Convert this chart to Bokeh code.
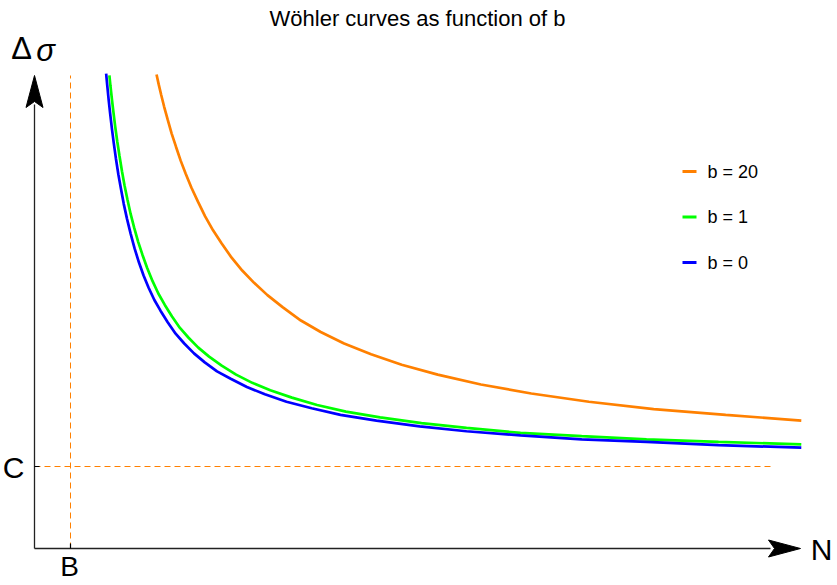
from bokeh.plotting import figure
from bokeh.models import Range1d, Label
from bokeh.embed import file_html
from bokeh.resources import INLINE

# ---- data (B = 1, C = 1) ----
B_val = 1.0
C_val = 1.0

N_b20 = [3.39, 3.45, 3.52, 3.6, 3.7, 3.81, 3.93, 4.06, 4.2, 4.36, 4.54, 4.74,
         4.96, 5.2, 5.47, 5.77, 6.1, 6.47, 6.9, 7.4, 7.95, 8.6, 9.35, 10.2,
         11.2, 12.4, 13.8, 15.4, 17.2, 19.2, 21.3]
S_b20 = [5.78, 5.66, 5.53, 5.39, 5.23, 5.06, 4.90, 4.73, 4.57, 4.40, 4.23, 4.05,
         3.88, 3.72, 3.55, 3.39, 3.24, 3.09, 2.94, 2.78, 2.64, 2.50, 2.37, 2.24,
         2.12, 2.00, 1.89, 1.79, 1.70, 1.63, 1.56]

N_b1 = [2.08, 2.11, 2.15, 2.19, 2.24, 2.3, 2.36, 2.43, 2.5, 2.58, 2.67, 2.77,
        2.88, 3.0, 3.13, 3.28, 3.44, 3.62, 3.82, 4.04, 4.28, 4.55, 4.85, 5.2,
        5.6, 6.05, 6.55, 7.15, 7.85, 8.65, 9.6, 10.75, 12, 13.5, 15.2, 17, 19,
        21.3]
S_b1 = [5.77, 5.64, 5.48, 5.33, 5.15, 4.96, 4.79, 4.60, 4.43, 4.26, 4.08, 3.91,
        3.74, 3.58, 3.42, 3.26, 3.11, 2.97, 2.83, 2.69, 2.57, 2.45, 2.34, 2.23,
        2.12, 2.02, 1.93, 1.84, 1.75, 1.67, 1.60, 1.53, 1.47, 1.41, 1.37, 1.33,
        1.30, 1.27]

N_b0 = [1.99, 2.02, 2.06, 2.1, 2.15, 2.2, 2.26, 2.33, 2.4, 2.48, 2.57, 2.67,
        2.78, 2.9, 3.03, 3.17, 3.33, 3.5, 3.7, 3.92, 4.16, 4.43, 4.73, 5.07,
        5.45, 5.9, 6.4, 7, 7.7, 8.5, 9.5, 10.7, 12, 13.5, 15.2, 17, 19, 21.3]
S_b0 = [5.79, 5.65, 5.47, 5.31, 5.12, 4.95, 4.76, 4.56, 4.39, 4.20, 4.02, 3.84,
        3.66, 3.49, 3.33, 3.18, 3.03, 2.90, 2.76, 2.62, 2.50, 2.38, 2.27, 2.16,
        2.07, 1.97, 1.88, 1.79, 1.71, 1.63, 1.56, 1.49, 1.43, 1.38, 1.33, 1.30,
        1.26, 1.23]

series_labels = ["b = 20", "b = 1", "b = 0"]
series_colors = ["#FF8000", "#00FF00", "#0000FF"]

# ---- layout helpers (pixel -> data) ----
W, H = 837, 585
X0, Y0, SX, SY = 34, 548, 36.0, 82.0
def dx(px): return (px - X0) / SX
def dy(py): return (Y0 - py) / SY

p = figure(width=W, height=H, x_range=Range1d(dx(0), dx(W)),
           y_range=Range1d(dy(H), dy(0)), output_backend="svg",
           toolbar_location=None, min_border=0, outline_line_color=None,
           x_axis_location=None, y_axis_location=None)
p.grid.visible = False
p.background_fill_color = "white"
p.border_fill_color = "white"

FONT = "Liberation Sans"
AX = "#222222"

# dashed guide lines at B and C
p.line([B_val, B_val], [0, dy(75)], line_color="#FF8000", line_width=1, line_dash="6 4")
p.line([0, dx(770)], [C_val, C_val], line_color="#FF8000", line_width=1, line_dash="6 4")

# axes with arrows
p.line([0, dx(770)], [0, 0], line_color=AX, line_width=1.3)
p.line([0, 0], [0, dy(104)], line_color=AX, line_width=1.3)
p.patch([dx(800), dx(768), dx(774), dx(768)],
        [0, 8.5 / SY, 0, -8.5 / SY], color="black")
p.patch([0, -8.5 / SX, 0, 8.5 / SX],
        [dy(75), dy(107), dy(101), dy(107)], color="black")
# small ticks at B and C
p.line([0, 5 / SX], [C_val, C_val], line_color="black", line_width=1.2)
p.line([B_val, B_val], [0, 5 / SY], line_color="black", line_width=1.2)

# curves
p.line(N_b20, S_b20, line_color=series_colors[0], line_width=2.7)
p.line(N_b1, S_b1, line_color=series_colors[1], line_width=2.7)
p.line(N_b0, S_b0, line_color=series_colors[2], line_width=2.7)

# legend
for i, (lab_t, col) in enumerate(zip(series_labels, series_colors)):
    ly = dy(171 + i * 45.5)
    p.line([dx(682), dx(696)], [ly, ly], line_color=col, line_width=3)
    p.add_layout(Label(x=dx(707), y=ly, text=lab_t, text_font=FONT,
                       text_font_size="18px", text_baseline="middle",
                       text_color="black"))

# labels
def lab(x, y, t, size, style="normal", align="center"):
    p.add_layout(Label(x=x, y=y, text=t, text_font=FONT, text_font_size=size,
                       text_font_style=style, text_align=align,
                       text_baseline="middle", text_color="black"))

lab(dx(417), dy(18), "Wöhler curves as function of b", "22px")
lab(dx(13), dy(467), "C", "30px")
lab(dx(69), dy(566), "B", "28px")
lab(dx(821), dy(549), "N", "30px")
lab(dx(21), dy(48), "Δ", "31px")
lab(dx(45), dy(50), "σ", "31px", style="italic")

open("out.html", "w").write(file_html(p, INLINE))
